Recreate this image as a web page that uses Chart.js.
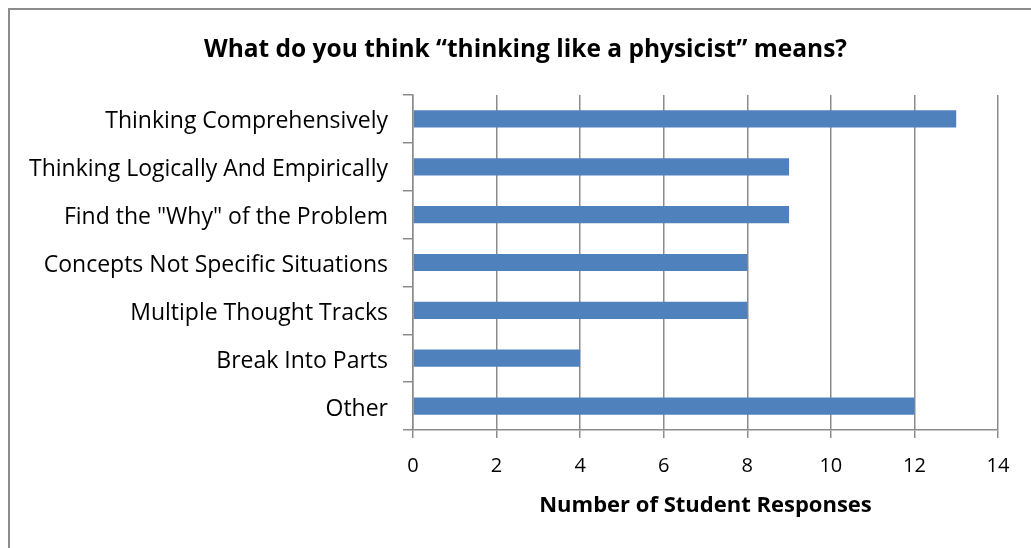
<!DOCTYPE html>
<html>
<head>
<meta charset="utf-8">
<script src="https://cdn.jsdelivr.net/npm/chart.js@4.4.1/dist/chart.umd.min.js"></script>
<style>
html,body{margin:0;padding:0;background:#fff;}
canvas{display:block;}
</style>
</head>
<body>
<canvas id="c" width="1031" height="548"></canvas>
<script>
const categories = [
  "Thinking Comprehensively",
  "Thinking Logically And Empirically",
  "Find the \"Why\" of the Problem",
  "Concepts Not Specific Situations",
  "Multiple Thought Tracks",
  "Break Into Parts",
  "Other"
];
const responses = [13, 9, 9, 8, 8, 4, 12];
const xTicks = [0, 2, 4, 6, 8, 10, 12, 14];
const titleText = "What do you think \u201cthinking like a physicist\u201d means?";
const xTitle = "Number of Student Responses";

const FONT = "'Open Sans', Lato, sans-serif";

const frame = {
  id: 'frame',
  afterLayout(chart) {
    const t = chart.titleBlock;
    if (t) { t.left = 52; t.right = 999; }
  },
  beforeDraw(chart) {
    const ctx = chart.ctx;
    ctx.save();
    ctx.fillStyle = '#fff';
    ctx.fillRect(0, 0, chart.width, chart.height);
    ctx.strokeStyle = '#8c8c8c';
    ctx.lineWidth = 2;
    ctx.beginPath();
    ctx.moveTo(9, chart.height);
    ctx.lineTo(9, 9);
    ctx.lineTo(chart.width, 9);
    ctx.stroke();
    ctx.restore();
  }
};

new Chart(document.getElementById('c'), {
  type: 'bar',
  data: {
    labels: categories,
    datasets: [{
      data: responses,
      backgroundColor: '#4F81BD',
      borderWidth: 0,
      barPercentage: 0.36,
      categoryPercentage: 1.0
    }]
  },
  plugins: [frame],
  options: {
    indexAxis: 'y',
    responsive: false,
    animation: false,
    layout: { padding: { top: 3, right: 33, bottom: 0, left: 0 } },
    plugins: {
      legend: { display: false },
      tooltip: { enabled: false },
      title: {
        display: true,
        text: titleText,
        color: '#000',
        font: { family: FONT, size: 24.5, weight: 'bold' },
        padding: { top: 32, bottom: 30.6 }
      }
    },
    scales: {
      x: {
        min: 0,
        max: 14,
        afterBuildTicks(scale) { scale.ticks = xTicks.map(v => ({ value: v })); },
        afterFit(scale) { scale.height = 118; },
        grid: { color: '#8c8c8c', lineWidth: 1.5, tickLength: 8 },
        border: { color: '#8c8c8c', width: 1.5 },
        ticks: { color: '#000', padding: 16, font: { family: FONT, size: 20 } },
        title: {
          display: true,
          text: xTitle,
          color: '#000',
          font: { family: FONT, size: 22, weight: 'bold' },
          padding: { top: 0, bottom: 29 }
        }
      },
      y: {
        afterFit(scale) { scale.width = 413; },
        grid: { drawOnChartArea: false, color: '#8c8c8c', lineWidth: 1.5, tickLength: 10, offset: true },
        border: { color: '#8c8c8c', width: 1.5 },
        ticks: { color: '#000', padding: 15, labelOffset: 3, font: { family: FONT, size: 23 } }
      }
    }
  }
});
</script>
</body>
</html>
